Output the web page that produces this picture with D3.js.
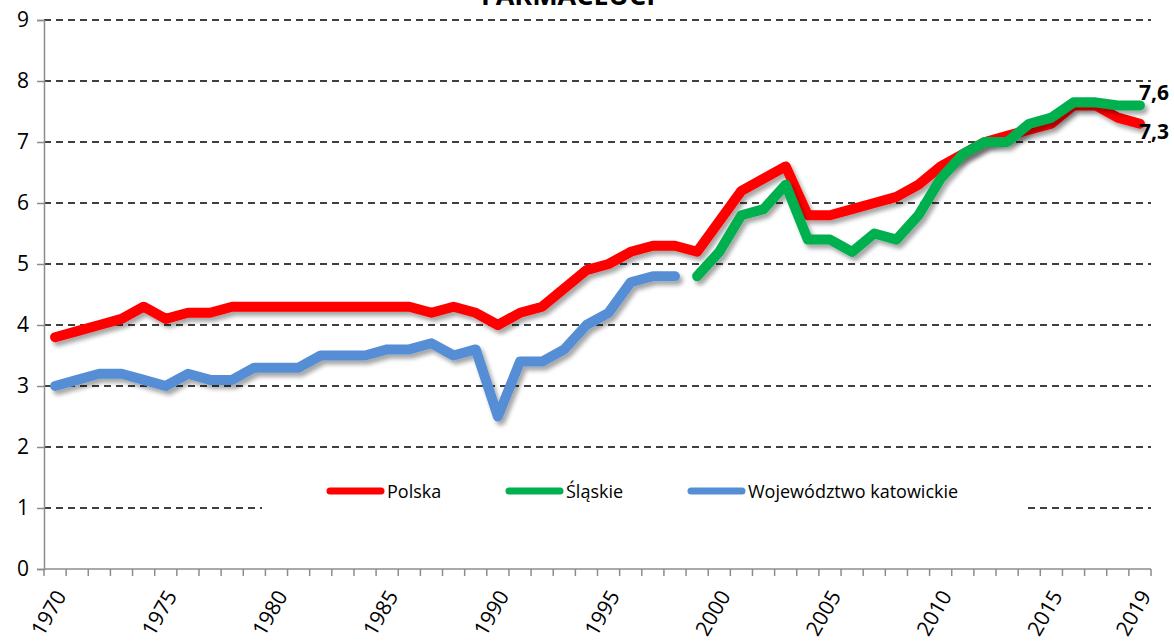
<!DOCTYPE html>
<html><head><meta charset="utf-8">
<script src="https://cdn.jsdelivr.net/npm/d3@7"></script>
<style>body{margin:0;background:#fff}svg{display:block}</style>
</head><body>
<svg id="c" width="1174" height="643"></svg>
<script>
const years = d3.range(1970, 2020);
const polska = [3.8,3.9,4.0,4.1,4.3,4.1,4.2,4.2,4.3,4.3,4.3,4.3,4.3,4.3,4.3,4.3,4.3,4.2,4.3,4.2,4.0,4.2,4.3,4.6,4.9,5.0,5.2,5.3,5.3,5.2,5.7,6.2,6.4,6.6,5.8,5.8,5.9,6.0,6.1,6.3,6.6,6.8,7.0,7.1,7.2,7.3,7.6,7.6,7.4,7.3];
const katowickieYears = d3.range(1970, 1999);
const katowickie = [3.0,3.1,3.2,3.2,3.1,3.0,3.2,3.1,3.1,3.3,3.3,3.3,3.5,3.5,3.5,3.6,3.6,3.7,3.5,3.6,2.5,3.4,3.4,3.6,4.0,4.2,4.7,4.8,4.8];
const slaskieYears = d3.range(1999, 2020);
const slaskie = [4.8,5.2,5.8,5.9,6.3,5.4,5.4,5.2,5.5,5.4,5.8,6.4,6.8,7.0,7.0,7.3,7.4,7.65,7.65,7.6,7.6];
const yTicks = [0,1,2,3,4,5,6,7,8,9];
const xLabels = [1970,1975,1980,1985,1990,1995,2000,2005,2010,2015,2019];
const endLabels = [{text:"7,6", v:7.6}, {text:"7,3", v:7.3}];
const title = "FARMACEUCI";
const seriesNames = ["Polska","Śląskie","Województwo katowickie"];
const colors = ["#ff0000","#00b050","#558ed5"];

const svg = d3.select("#c");
const font = "'Open Sans', 'Liberation Sans', sans-serif";
const L = 44, R = 1151, T = 20, B = 569;
const x = d3.scaleBand().domain(years).range([L, R]);
const y = d3.scaleLinear().domain([0, 9]).range([B, T]);
const cx = yr => x(yr) + x.bandwidth() / 2;

const defs = svg.append("defs");
const f = defs.append("filter").attr("id","sh").attr("x","-10%").attr("y","-10%").attr("width","120%").attr("height","130%");
f.append("feDropShadow").attr("dx",3).attr("dy",4).attr("stdDeviation",2.2).attr("flood-color","#000").attr("flood-opacity",0.35);

// title (cut at top, as in the reference)
svg.append("text").attr("x", 568).attr("y", 5).attr("text-anchor","middle")
  .attr("font-family", font).attr("font-weight","bold").attr("font-size", 27).text(title);

// gridlines
svg.append("g").selectAll("line").data(yTicks.filter(d => d > 0)).join("line")
  .attr("x1", L).attr("x2", R).attr("y1", d => y(d)).attr("y2", d => y(d))
  .attr("stroke", "#000").attr("stroke-width", 1.3).attr("stroke-dasharray", "7,5");

// y axis
const ya = svg.append("g").attr("transform", `translate(${L},0)`)
  .call(d3.axisLeft(y).tickValues(yTicks).tickSize(7).tickPadding(8));
ya.select(".domain").attr("stroke","#8c8c8c").attr("stroke-width",1.5);
ya.selectAll(".tick line").attr("stroke","#8c8c8c").attr("stroke-width",1.5);
ya.selectAll("text").attr("font-family", font).attr("font-size", 21).attr("fill","#000");

// x axis
const xa = svg.append("g").attr("transform", `translate(0,${B})`);
xa.append("line").attr("x1", L).attr("x2", R).attr("stroke","#8c8c8c").attr("stroke-width",1.5);
xa.selectAll("line.t").data(years.concat([null])).join("line").attr("class","t")
  .attr("x1", d => d === null ? R : x(d)).attr("x2", d => d === null ? R : x(d))
  .attr("y1", 0).attr("y2", 7).attr("stroke","#8c8c8c").attr("stroke-width",1.5);
xa.selectAll("text").data(xLabels).join("text")
  .attr("transform", d => `translate(${cx(d) + 7},${24}) rotate(-60)`)
  .attr("text-anchor","end").attr("dominant-baseline","middle")
  .attr("font-family", font).attr("font-size", 21).text(d => d);

// legend (white box covering grid)
svg.append("rect").attr("x", 262).attr("y", 470).attr("width", 762).attr("height", 48).attr("fill","#fff");

// lines
const line = d3.line().x(d => cx(d[0])).y(d => y(d[1]));
const data = [
  d3.zip(years, polska),
  d3.zip(slaskieYears, slaskie),
  d3.zip(katowickieYears, katowickie)
];
const order = [2, 0, 1];
order.forEach(i => {
  svg.append("path").datum(data[i]).attr("d", line).attr("fill","none")
    .attr("stroke", colors[i]).attr("stroke-width", 10).attr("stroke-linecap","round")
    .attr("stroke-linejoin","round").attr("filter","url(#sh)");
});

// end labels
svg.selectAll("text.end").data(endLabels).join("text").attr("class","end")
  .attr("x", 1139).attr("y", (d, i) => y(d.v) + (i === 0 ? -5 : 15))
  .attr("font-family", font).attr("font-weight","bold").attr("font-size", 21).text(d => d.text);

// legend items
const legX = [327, 506, 688];
const lg = svg.append("g");
seriesNames.forEach((n, i) => {
  lg.append("line").attr("x1", legX[i] + 3).attr("x2", legX[i] + 54).attr("y1", 491).attr("y2", 491)
    .attr("stroke", colors[i]).attr("stroke-width", 7).attr("stroke-linecap","round");
  lg.append("text").attr("x", legX[i] + 60).attr("y", 497.5).attr("font-family", font)
    .attr("font-size", 18).text(n);
});
</script>
</body></html>
